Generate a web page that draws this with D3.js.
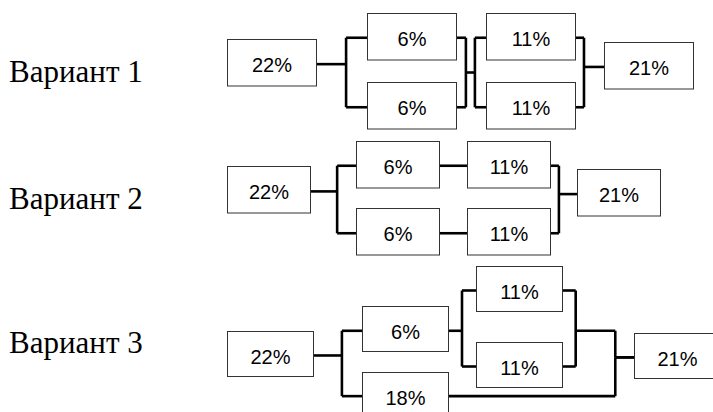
<!DOCTYPE html>
<html>
  <head>
    <meta charset="utf-8">
    <title>Варианты схемы</title>
    <script src="https://d3js.org/d3.v7.min.js" charset="utf-8"></script>
    <style media="screen">
      html, body {
        margin: 0;
        padding: 0;
        background: #FFFFFF;
      }
      svg {
        display: block;
      }
      .label {
        font-family: "Liberation Serif", "Times New Roman", serif;
        font-size: 31px;
        fill: #000;
      }
      .block rect {
        fill: #FFFFFF;
        stroke: #333;
        stroke-width: 1;
      }
      .block text {
        font-family: "Liberation Sans", Arial, sans-serif;
        font-size: 20px;
        fill: #000;
        text-anchor: middle;
      }
      .link {
        fill: none;
        stroke: #000;
        stroke-width: 2.6;
      }
    </style>
  </head>
  <body>
    <div id="box"></div>
    <script type="text/javascript">
      //Data
      var variantLabels = ["Вариант 1", "Вариант 2", "Вариант 3"];
      var variant1Values = [22, 6, 6, 11, 11, 21];
      var variant2Values = [22, 6, 6, 11, 11, 21];
      var variant3Values = [22, 6, 18, 11, 11, 21];
      var valueFormat = function(d) { return d + "%"; };

      //Layout (grid columns / rows of every block, and how blocks are wired)
      var width = 713;
      var height = 412;
      var labelX = 9;
      var portShift = 2;   // connectors sit a bit under the box middle

      var layouts = [
        {
          values: variant1Values,
          labelY: 82,
          colX: [227, 367, 486, 604], rowY: [12.5, 82],
          boxW: 89, boxH: 46.5,
          cols: [0, 1, 1, 2, 2, 3],
          rows: [0.38, 0, 1, 0, 1, 0.42],
          links: [
            {from: [0], to: [1, 2], gap: 0, t: [0.59]},
            {from: [1, 2], to: [3, 4], gap: 1, t: [0.33, 0.63]},
            {from: [3, 4], to: [5], gap: 2, t: [0.31]}
          ]
        },
        {
          values: variant2Values,
          labelY: 209,
          colX: [227, 356, 467, 577], rowY: [140.5, 208],
          boxW: 83, boxH: 46.5,
          cols: [0, 1, 1, 2, 2, 3],
          rows: [0.38, 0, 1, 0, 1, 0.42],
          links: [
            {from: [0], to: [1, 2], gap: 0, t: [0.59]},
            {from: [1], to: [3], gap: 1, t: []},
            {from: [2], to: [4], gap: 1, t: []},
            {from: [3, 4], to: [5], gap: 2, t: [0.33]}
          ]
        },
        {
          values: variant3Values,
          labelY: 353,
          colX: [227, 362, 476, 634], rowY: [266, 342],
          boxW: 86, boxH: 45,
          cols: [0, 1, 1, 2, 2, 3],
          rows: [0.855, 0.53, 1.39, 0, 1, 0.88],
          links: [
            {from: [0], to: [1, 2], gap: 0, t: [0.59]},
            {from: [1], to: [3, 4], gap: 1, t: [0.5]},
            {from: [3, 4], to: [5], gap: 2, t: [0.19, 0.74], joinAt: 1},
            {from: [2], to: [5], gap: 2, t: [0.74]}
          ]
        }
      ];

      var canvas = d3.select("div#box")
                        .append("svg")
                        .attr("width", width)
                        .attr("height", height);

      var line = d3.line();

      layouts.forEach(function(lay, vi) {
        var scalex = d3.scaleLinear()
                        .domain(d3.range(lay.colX.length))
                        .range(lay.colX);
        var scaley = d3.scaleLinear()
                        .domain([0, 1])
                        .range(lay.rowY);

        var blocks = lay.values.map(function(v, i) {
          var x = scalex(lay.cols[i]);
          var y = scaley(lay.rows[i]);
          return {
            value: v, col: lay.cols[i],
            x: x, y: y,
            left: x, right: x + lay.boxW,
            port: y + lay.boxH / 2 + portShift
          };
        });

        // x of a bus inside the gap that follows column g
        function busX(g, t) {
          var a = scalex(g) + lay.boxW;
          var b = scalex(g + 1);
          return a + t * (b - a);
        }

        var group = canvas.append("g").attr("class", "variant");

        group.append("text")
              .attr("class", "label")
              .attr("x", labelX)
              .attr("y", lay.labelY)
              .text(variantLabels[vi]);

        // connectors
        var paths = [];
        lay.links.forEach(function(lk) {
          var src = lk.from.map(function(i) { return blocks[i]; });
          var dst = lk.to.map(function(i) { return blocks[i]; });
          if (lk.t.length === 0) {
            paths.push([[src[0].right, src[0].port], [dst[0].left, src[0].port]]);
            return;
          }
          var bl = busX(lk.gap, lk.t[0]);
          var br = busX(lk.gap, lk.t[lk.t.length - 1]);
          var joinY;
          if (lk.joinAt !== undefined) {
            joinY = blocks[lk.joinAt].port;
          } else if (src.length === 1) {
            joinY = src[0].port;
          } else if (dst.length === 1) {
            joinY = dst[0].port;
          } else {
            joinY = d3.mean(src, function(b) { return b.port; });
          }
          src.forEach(function(b) {
            paths.push([[b.right, b.port], [bl, b.port]]);
          });
          var ys = src.map(function(b) { return b.port; }).concat([joinY]);
          paths.push([[bl, d3.min(ys)], [bl, d3.max(ys)]]);
          if (br !== bl) {
            paths.push([[bl, joinY], [br, joinY]]);
          }
          var ys2 = dst.map(function(b) { return b.port; }).concat([joinY]);
          paths.push([[br, d3.min(ys2)], [br, d3.max(ys2)]]);
          dst.forEach(function(b) {
            paths.push([[br, b.port], [b.left, b.port]]);
          });
        });

        group.selectAll("path.link")
              .data(paths)
              .enter()
                .append("path")
                .attr("class", "link")
                .attr("d", function(d) { return line(d); });

        var boxes = group.selectAll("g.block")
                          .data(blocks)
                          .enter()
                            .append("g")
                            .attr("class", "block")
                            .attr("transform", function(d) {
                              return "translate(" + (Math.round(d.x) + 0.5) + "," + (Math.round(d.y) + 0.5) + ")";
                            });
        boxes.append("rect")
              .attr("width", lay.boxW)
              .attr("height", lay.boxH);
        boxes.append("text")
              .attr("x", lay.boxW / 2)
              .attr("y", lay.boxH / 2 + 9.5)
              .text(function(d) { return valueFormat(d.value); });
      });
    </script>
  </body>
</html>
